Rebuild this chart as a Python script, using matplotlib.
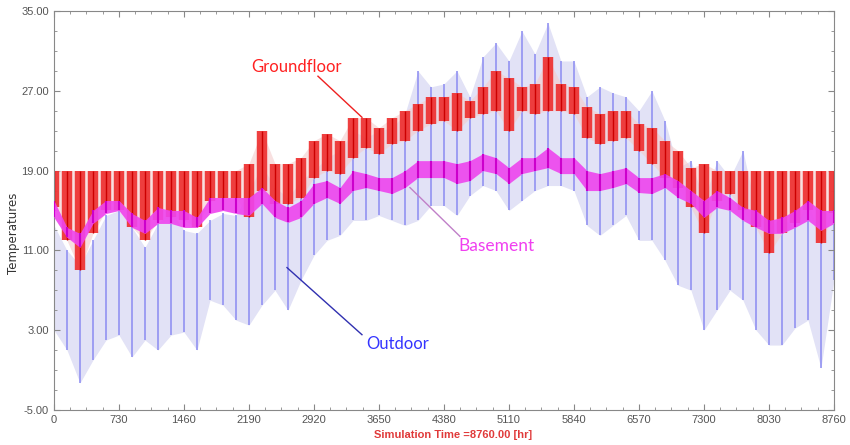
import numpy as np
import matplotlib
matplotlib.use("Agg")
import matplotlib.pyplot as plt

# sample times (hours), one reading every 146 h
hours = np.arange(0, 8761, 146)

# outdoor temperature envelope (daily swing)
outdoor_low = [3.0, 1.0, -2.3, 0.0, 2.0, 2.5, 0.3, 2.0, 1.0, 2.5,
               2.8, 1.0, 6.0, 5.5, 4.0, 3.5, 5.5, 7.0, 5.0, 8.0,
               10.5, 12.0, 12.5, 14.0, 14.0, 14.5, 14.0, 13.5, 14.0, 15.5,
               15.5, 14.5, 16.5, 17.5, 17.0, 15.0, 16.0, 17.0, 17.5, 17.5,
               17.0, 13.5, 12.5, 13.5, 14.5, 12.0, 12.0, 10.0, 7.5, 7.0,
               3.0, 5.0, 7.0, 6.0, 3.0, 1.5, 1.5, 3.2, 4.0, -0.8, 8.0]
outdoor_high = [13.5, 11.0, 9.5, 12.0, 14.5, 15.0, 13.3, 11.3, 13.7, 15.0,
                13.0, 12.7, 14.0, 14.7, 14.5, 17.0, 19.5, 17.3, 16.3, 18.0,
                19.0, 20.3, 21.0, 23.0, 22.3, 23.0, 23.3, 24.7, 29.0, 27.4,
                27.7, 29.0, 26.4, 30.4, 31.8, 30.0, 33.0, 30.7, 33.8, 30.0,
                30.0, 26.4, 27.4, 26.8, 26.4, 25.0, 27.0, 24.0, 19.3, 20.0,
                16.0, 20.0, 18.3, 21.0, 15.0, 13.3, 14.3, 13.3, 16.0, 12.0, 16.0]

# basement
basement_low = [14.3, 12.3, 11.3, 13.7, 14.7, 15.0, 13.3, 12.7, 13.7, 13.7,
                13.3, 13.3, 14.7, 15.0, 14.7, 14.5, 15.7, 14.3, 13.8, 14.3,
                15.7, 16.3, 15.7, 17.0, 17.3, 17.0, 16.7, 17.3, 18.3, 18.3,
                18.3, 17.7, 18.0, 19.0, 18.7, 17.7, 18.7, 19.0, 19.3, 18.7,
                18.7, 17.0, 17.0, 17.3, 17.7, 16.8, 16.7, 17.3, 16.3, 15.7,
                14.3, 15.3, 15.0, 14.0, 13.3, 12.7, 12.7, 13.3, 14.0, 13.0, 13.7]
basement_high = [16.0, 13.3, 12.7, 15.0, 16.0, 16.0, 14.7, 14.0, 15.3, 15.0,
                 15.0, 14.3, 16.3, 16.3, 16.3, 16.3, 17.3, 16.0, 15.3, 16.0,
                 17.7, 18.0, 17.3, 19.0, 18.7, 18.3, 18.3, 19.0, 20.0, 20.0,
                 20.0, 19.7, 20.0, 20.7, 20.3, 19.3, 20.3, 20.3, 21.3, 20.3,
                 20.3, 19.0, 18.7, 19.0, 19.3, 18.3, 18.3, 18.7, 18.0, 17.0,
                 16.0, 17.0, 16.3, 15.3, 15.0, 14.0, 14.3, 15.0, 16.0, 15.0, 15.0]

# groundfloor (heated to 19 in winter)
ground_low = [15.3, 12.0, 9.0, 12.7, 15.0, 15.0, 13.3, 12.0, 14.0, 14.3,
              14.0, 13.3, 16.0, 16.3, 16.3, 14.3, 17.0, 15.7, 15.7, 16.3,
              18.3, 19.0, 18.7, 20.3, 21.3, 20.7, 21.7, 22.0, 23.0, 23.7,
              24.0, 23.0, 24.3, 24.7, 25.0, 23.0, 25.0, 24.7, 25.0, 25.0,
              24.7, 22.3, 21.7, 22.0, 22.3, 21.0, 19.7, 18.3, 17.3, 15.3,
              12.7, 16.0, 16.7, 15.0, 13.3, 10.7, 12.7, 13.7, 15.0, 11.7, 14.7]
ground_high = [19.0, 19.0, 19.0, 19.0, 19.0, 19.0, 19.0, 19.0, 19.0, 19.0,
               19.0, 19.0, 19.0, 19.0, 19.0, 19.7, 23.0, 19.7, 19.7, 20.3,
               22.0, 22.7, 22.0, 24.3, 24.3, 23.3, 24.3, 25.0, 25.7, 26.4,
               26.4, 26.8, 26.0, 27.4, 29.0, 28.3, 27.4, 27.7, 30.4, 27.7,
               27.4, 25.4, 24.7, 25.0, 25.0, 23.7, 23.3, 22.0, 21.0, 19.3,
               19.7, 19.0, 19.0, 19.0, 19.0, 19.0, 19.0, 19.0, 19.0, 19.0, 19.0]

x_ticks = np.arange(0, 8761, 730)
y_ticks = [-5, 3, 11, 19, 27, 35]

plt.rcParams['font.family'] = ['Liberation Sans', 'DejaVu Sans']

fig = plt.figure(figsize=(8.5, 4.45), dpi=100)
ax = fig.add_axes([0.0635, 0.079, 0.9176, 0.896])

# outdoor
ax.fill_between(hours, outdoor_low, outdoor_high, color='#e2e2f6', lw=0, zorder=1)
ax.vlines(hours, outdoor_low, outdoor_high, color='#8c8cf2', lw=1.3, alpha=0.85, zorder=1.5)

# groundfloor
ax.fill_between(hours, ground_low, ground_high, color='#f4cccc', lw=0, alpha=0.6, zorder=1.8)
ax.vlines(hours, ground_low, ground_high, color='#ee3030', lw=7.5, alpha=0.92, zorder=2)
ax.vlines(hours, ground_low, ground_high, color='#cc0000', lw=1.0, zorder=2.2)

# basement
ax.fill_between(hours, basement_low, basement_high, color='#ee44ee', lw=0, alpha=0.9, zorder=3)
ax.vlines(hours, basement_low, basement_high, color='#cc00cc', lw=1.5, zorder=3.2)

ax.set_xlim(0, 8760)
ax.set_ylim(-5, 35)
ax.set_xticks(x_ticks)
ax.set_xticks(np.arange(0, 8761, 182.5), minor=True)
ax.set_yticks(y_ticks)
ax.set_yticklabels(['%.2f' % v for v in y_ticks])
ax.set_yticks(np.arange(-5, 35.1, 2), minor=True)
ax.tick_params(which='both', direction='in', top=True, right=True,
               color='#888888', labelcolor='#555555', labelsize=8)
ax.tick_params(which='major', length=4)
ax.tick_params(which='minor', length=2)
for sp in ax.spines.values():
    sp.set_color('#888888')

fig.text(0.0155, 0.475, 'Temperatures', rotation=90, fontsize=8.5,
         color='#333333', ha='center', va='center', family='DejaVu Sans')
fig.text(0.533, 0.022, 'Simulation Time =8760.00 [hr]', fontsize=8,
         fontweight='bold', color='#e03a3a', ha='center', va='center')

# series labels with leader lines
ax.plot([2965, 3459], [28.47, 24.35], color='#ee2020', lw=1.0, zorder=5)
ax.text(2729, 29.4, 'Groundfloor', color='#ff2020', fontsize=12,
        family='Lato', ha='center', va='center', zorder=5)
ax.plot([4560, 3998], [12.4, 17.3], color='#c080c8', lw=1.0, zorder=5)
ax.text(4975, 11.4, 'Basement', color='#f040f0', fontsize=12.5,
        family='Lato', ha='center', va='center', zorder=5)
ax.plot([3459, 2617], [2.54, 9.27], color='#3030b0', lw=1.0, zorder=5)
ax.text(3863, 1.6, 'Outdoor', color='#3535ff', fontsize=12,
        family='Lato', ha='center', va='center', zorder=5)

fig.savefig('out.png', dpi=100)
